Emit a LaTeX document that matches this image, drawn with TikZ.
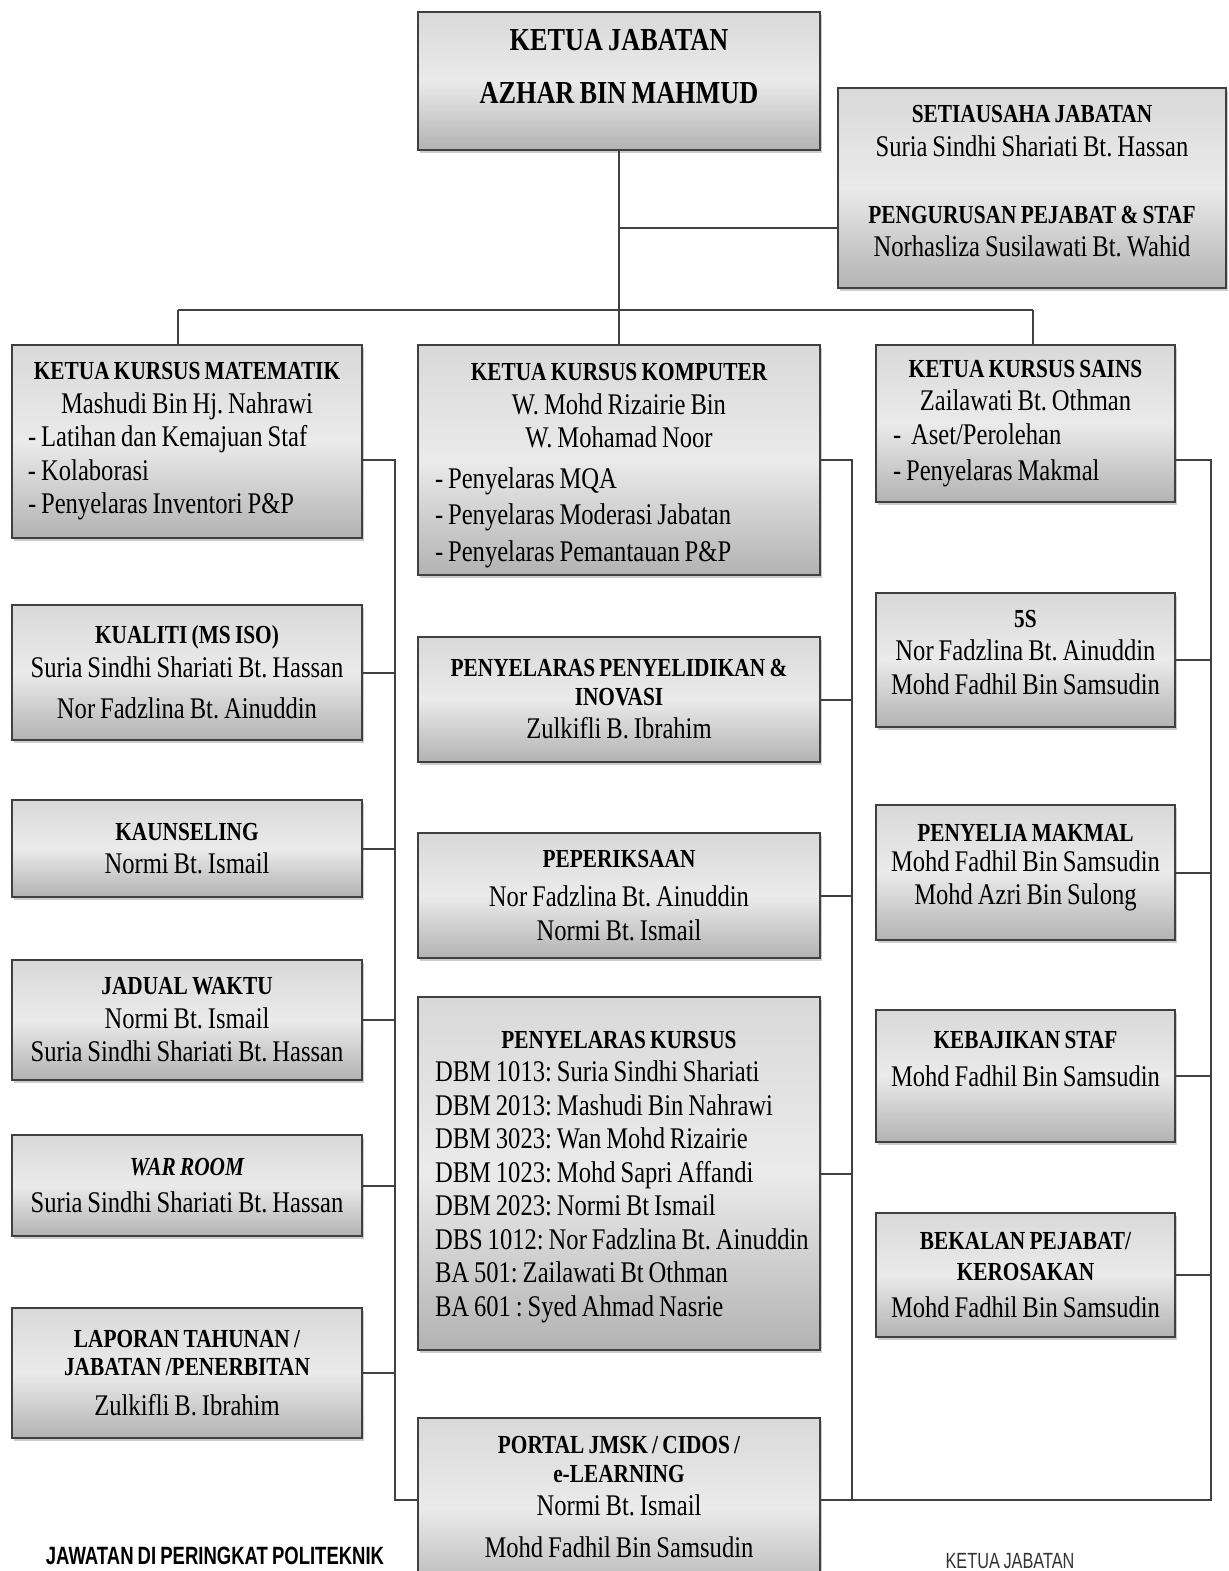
\documentclass[tikz,border=0pt]{standalone}
\usepackage{fontspec}
\setmainfont[FakeStretch=0.82, WordSpace=0.8]{Liberation Serif}
\newfontfamily\capsans[FakeStretch=0.74, WordSpace=0.8]{Liberation Sans}
\usepackage{tikz}
\usetikzlibrary{shadows}
\frenchspacing

\newcommand{\hd}[1]{{\fontsize{13}{16.75}\selectfont\bfseries #1}}
\newcommand{\lline}[2]{\makebox[#1][l]{#2}}
\newcommand{\padb}[1]{\rule[-#1]{0pt}{0pt}}
\newcommand{\padt}[1]{\rule{0pt}{#1}}

\begin{document}
\begin{tikzpicture}[x=0.5pt, y=-0.5pt,
	box/.style={draw=black!75, line width=1.2pt, top color=black!15, bottom color=black!30, middle color=black!8,
		drop shadow={shadow xshift=1pt, shadow yshift=-1.6pt, opacity=0.4},
		align=center, inner xsep=4pt, inner ysep=3pt, font=\fontsize{15}{16.75}\selectfont},
	lcol/.style={box, minimum width=175pt},
	mcol/.style={box, minimum width=201pt},
	rcol/.style={box, minimum width=149.5pt},
	link/.style={draw=black!75, line width=1pt}]

	\useasboundingbox (0,0) rectangle (1229,1571);
	\clip (0,0) rectangle (1229,1571);
	\fill[white] (0,0) rectangle (1229,1571);

	\coordinate (sj) at (619,228);
	\coordinate (bl) at (178,310);
	\coordinate (br) at (1033,310);
	\coordinate (lt) at (395,460);
	\coordinate (lb) at (395,1500);
	\coordinate (mt) at (852,460);
	\coordinate (mb) at (852,1500);
	\coordinate (rt) at (1211,460);
	\coordinate (rb) at (1211,1500);

	\node[mcol, minimum height=69pt, font=\fontsize{16}{18}\selectfont\bfseries] (ketua) at (619,81)
		{KETUA JABATAN\\[8.5pt]AZHAR BIN MAHMUD\padb{15pt}};
	\node[box, minimum width=194pt, minimum height=100pt] (setiausaha) at (1032,188)
		{\hd{SETIAUSAHA JABATAN}\\Suria Sindhi Shariati Bt. Hassan\\[16.75pt]\hd{PENGURUSAN PEJABAT \& STAF}\\Norhasliza Susilawati Bt. Wahid\padb{7pt}};

	\node[lcol, minimum height=96.5pt] (matematik) at (187,441.5)
		{\hd{KETUA KURSUS MATEMATIK}\\Mashudi Bin Hj. Nahrawi\\\lline{159pt}{- Latihan dan Kemajuan Staf}\\\lline{159pt}{- Kolaborasi}\\\lline{159pt}{- Penyelaras Inventori P\&P}};
	\node[lcol, minimum height=67.5pt] (kualiti) at (187,672.5)
		{\hd{KUALITI (MS ISO)}\\Suria Sindhi Shariati Bt. Hassan\\[4pt]Nor Fadzlina Bt. Ainuddin};
	\node[lcol, minimum height=48.5pt] (kaunseling) at (187,848.5)
		{\hd{KAUNSELING}\\Normi Bt. Ismail};
	\node[lcol, minimum height=60pt] (jadual) at (187,1020)
		{\hd{JADUAL WAKTU}\\Normi Bt. Ismail\\Suria Sindhi Shariati Bt. Hassan};
	\node[lcol, minimum height=50.5pt] (warroom) at (187,1185.5)
		{\hd{\itshape WAR ROOM}\\[2pt]Suria Sindhi Shariati Bt. Hassan};
	\node[lcol, minimum height=65pt] (laporan) at (187,1373)
		{\hd{LAPORAN TAHUNAN /}\\[-2.5pt]\hd{JABATAN /PENERBITAN}\\[3pt]Zulkifli B. Ibrahim};

	\node[mcol, minimum height=115pt] (komputer) at (619,460)
		{\hd{\padt{14pt}KETUA KURSUS KOMPUTER}\\W. Mohd Rizairie Bin\\W. Mohamad Noor\\[3.5pt]\lline{184pt}{- Penyelaras MQA}\\[1.5pt]\lline{184pt}{- Penyelaras Moderasi Jabatan}\\[1.5pt]\lline{184pt}{- Penyelaras Pemantauan P\&P}};
	\node[mcol, minimum height=62.5pt] (penyelidikan) at (619,699.5)
		{\hd{PENYELARAS PENYELIDIKAN \&}\\[-2.5pt]\hd{INOVASI}\\Zulkifli B. Ibrahim};
	\node[mcol, minimum height=62.5pt] (peperiksaan) at (619,895.5)
		{\hd{PEPERIKSAAN}\\[3pt]Nor Fadzlina Bt. Ainuddin\\Normi Bt. Ismail};
	\node[mcol, minimum height=176.5pt] (kursus) at (619,1173.5)
		{\hd{\padt{12pt}PENYELARAS KURSUS}\\\lline{184pt}{DBM 1013: Suria Sindhi Shariati}\\\lline{184pt}{DBM 2013: Mashudi Bin Nahrawi}\\\lline{184pt}{DBM 3023: Wan Mohd Rizairie}\\\lline{184pt}{DBM 1023: Mohd Sapri Affandi}\\\lline{184pt}{DBM 2023: Normi Bt Ismail}\\\lline{184pt}{DBS 1012: Nor Fadzlina Bt. Ainuddin}\\\lline{184pt}{BA 501: Zailawati Bt Othman}\\\lline{184pt}{BA 601 : Syed Ahmad Nasrie}};
	\node[mcol, minimum height=90pt] (portal) at (619,1508)
		{\hd{PORTAL JMSK / CIDOS /}\\[-2.5pt]\hd{e-LEARNING}\\Normi Bt. Ismail\\[4pt]Mohd Fadhil Bin Samsudin\padb{11pt}};

	\node[rcol, minimum height=78.5pt] (sains) at (1025.5,423.5)
		{\hd{KETUA KURSUS SAINS}\\Zailawati Bt. Othman\\\lline{132.5pt}{- \ Aset/Perolehan}\\[1.5pt]\lline{132.5pt}{- Penyelaras Makmal}};
	\node[rcol, minimum height=67pt] (limaS) at (1025.5,660)
		{\hd{5S}\\Nor Fadzlina Bt. Ainuddin\\Mohd Fadhil Bin Samsudin\padb{8pt}};
	\node[rcol, minimum height=67.5pt] (makmal) at (1025.5,872.5)
		{\hd{PENYELIA MAKMAL}\\[-2pt]Mohd Fadhil Bin Samsudin\\Mohd Azri Bin Sulong\padb{8pt}};
	\node[rcol, minimum height=66pt] (kebajikan) at (1025.5,1076)
		{\hd{KEBAJIKAN STAF}\\[2pt]Mohd Fadhil Bin Samsudin\padb{17pt}};
	\node[rcol, minimum height=62pt] (bekalan) at (1025.5,1275)
		{\hd{BEKALAN PEJABAT/}\\[-1pt]\hd{KEROSAKAN}\\[1.5pt]Mohd Fadhil Bin Samsudin};

	\draw[link] (ketua) -- (komputer);
	\draw[link] (sj) -- (sj -| setiausaha.west);
	\draw[link] (bl) -- (br);
	\draw[link] (bl) -- (bl |- matematik.north);
	\draw[link] (br) -- (br |- sains.north);

	\draw[link] (matematik.east |- lt) -- (lt) -- (lb) -- (lb -| portal.west);
	\draw[link] (komputer.east |- mt) -- (mt) -- (mb);
	\draw[link] (sains.east |- rt) -- (rt) -- (rb) -- (rb -| portal.east);

	\draw[link] (kualiti.east) -- (kualiti.east -| lt);
	\draw[link] (kaunseling.east) -- (kaunseling.east -| lt);
	\draw[link] (jadual.east) -- (jadual.east -| lt);
	\draw[link] (warroom.east) -- (warroom.east -| lt);
	\draw[link] (laporan.east) -- (laporan.east -| lt);

	\draw[link] (penyelidikan.east) -- (penyelidikan.east -| mt);
	\draw[link] (peperiksaan.east) -- (peperiksaan.east -| mt);
	\draw[link] (kursus.east) -- (kursus.east -| mt);

	\draw[link] (limaS.east) -- (limaS.east -| rt);
	\draw[link] (makmal.east) -- (makmal.east -| rt);
	\draw[link] (kebajikan.east) -- (kebajikan.east -| rt);
	\draw[link] (bekalan.east) -- (bekalan.east -| rt);

	\node[inner sep=0pt, font=\capsans\fontsize{12.5}{14}\selectfont\bfseries] (politeknik) at (215,1556) {JAWATAN DI PERINGKAT POLITEKNIK};
	\node[inner sep=0pt, anchor=north, font=\capsans\fontsize{11}{13}\selectfont, text=black!80] (ketuanota) at (1010,1553) {KETUA JABATAN};
\end{tikzpicture}
\end{document}
